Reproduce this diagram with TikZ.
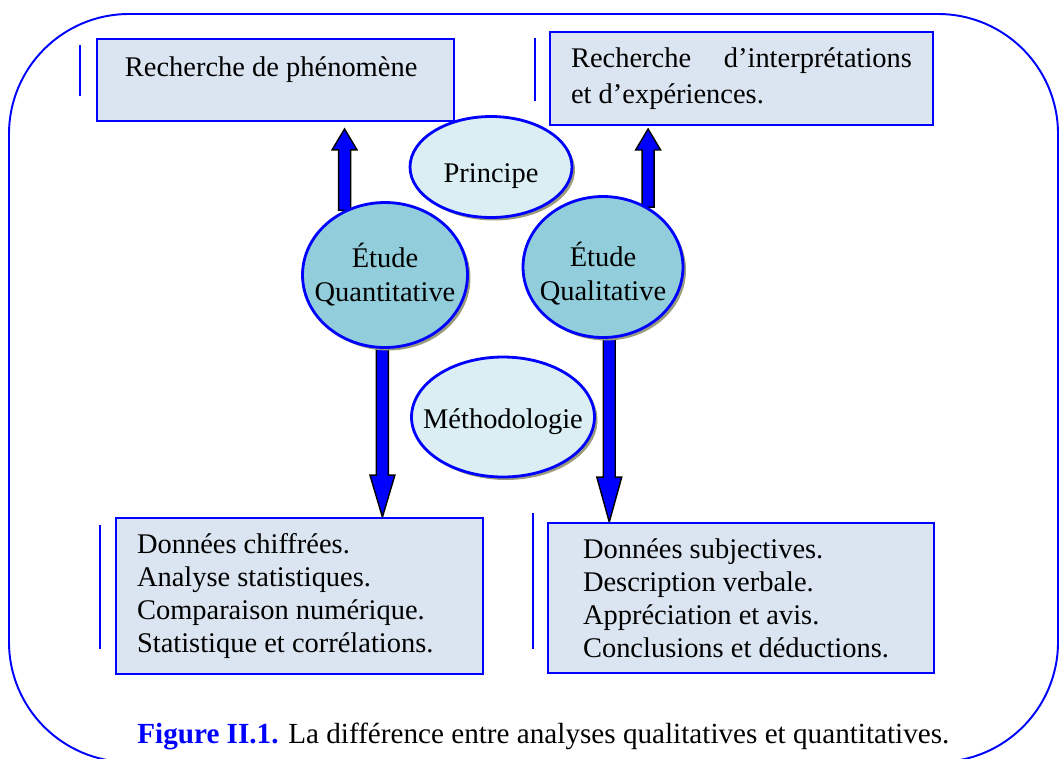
\documentclass[tikz,border=0pt]{standalone}
\usepackage{fontspec}
\setmainfont{Liberation Serif}
\usetikzlibrary{calc,shadows,shapes.geometric,backgrounds}
\definecolor{bleuvif}{RGB}{0,0,255}
\definecolor{fondboite}{RGB}{219,229,241}
\definecolor{fondclair}{RGB}{218,238,243}
\definecolor{fondetude}{RGB}{146,205,220}
\definecolor{ombre}{RGB}{155,155,125}
\tikzset{
  boite/.style={draw=bleuvif, fill=fondboite, line width=1.1pt, align=flush left, inner ysep=0pt},
  bulle/.style={ellipse, draw=bleuvif, line width=1.6pt, align=flush center,
    inner xsep=-0.4cm, inner ysep=0pt,
    drop shadow={shadow xshift=0.06cm, shadow yshift=-0.06cm, fill=ombre, opacity=1}},
  barre/.style={draw=bleuvif, line width=1.1pt},
  fleche/.style={draw=black, fill=bleuvif, line width=0.8pt,
    to path={let \p1=(\tikztostart), \p2=(\tikztotarget), \n1={sign(\y2-\y1)} in
      (\x1-0.12cm,\y1) -- (\x1-0.12cm,{\y2-\n1*#1}) -- (\x1-0.25cm,{\y2-\n1*#1})
      -- (\x2,\y2) -- (\x1+0.25cm,{\y2-\n1*#1}) -- (\x1+0.12cm,{\y2-\n1*#1})
      -- (\x1+0.12cm,\y1) -- cycle}},
  fleche/.default=0.42cm,
}

\begin{document}
\begin{tikzpicture}[x=0.02cm, y=-0.02cm, every node/.style={font=\fontsize{16.2}{18.8}\selectfont}]
  \useasboundingbox (0,0) rectangle (1060,758);
  % cadre
  \draw[bleuvif, line width=1.1pt, rounded corners=2.4cm] (9,14) rectangle (1058,762);

  % boites
  \node[boite, anchor=north west, text width=6.02cm, inner xsep=0.56cm,
        text height=0.76cm, text depth=0.88cm] (phen) at (96,38) {Recherche de phénomène};
  \node[boite, minimum height=1.86cm, text width=6.82cm, inner xsep=0.42cm,
        font=\fontsize{16.2}{20.5}\selectfont] (interp) at (741.5,78.5)
        {Recherche\hfill d’interprétations\\et d’expériences.};
  \node[boite, minimum height=3.12cm, text width=6.5cm, inner xsep=0.42cm] (chiffres) at (299.5,596)
        {Données chiffrées.\\Analyse statistiques.\\Comparaison numérique.\\Statistique et corrélations.};
  \node[boite, minimum height=3.0cm, text width=6.32cm, inner xsep=0.7cm] (subjectif) at (741,598)
        {Données subjectives.\\Description verbale.\\Appréciation et avis.\\Conclusions et déductions.};

  % barres
  \draw[barre] (80,45) -- (80,96);
  \draw[barre] (535,38) -- (535,101);
  \draw[barre] (100,525) -- (100,649);
  \draw[barre] (533,513) -- (533,649);

  % bulles
  \node[bulle, fill=fondclair, minimum width=3.24cm, minimum height=2.02cm,
        text height=0.6cm, text depth=0pt] (principe) at (491,167) {Principe};
  \node[bulle, fill=fondetude, minimum width=3.3cm, minimum height=2.9cm,
        font=\fontsize{16.2}{19.4}\selectfont] (quanti) at (385,275) {Étude\\Quantitative};
  \node[bulle, fill=fondetude, minimum width=3.2cm, minimum height=2.82cm,
        font=\fontsize{16.2}{19.4}\selectfont, text height=1.44cm] (quali) at (603,267) {Étude\\Qualitative};
  \node[bulle, fill=fondclair, minimum width=3.66cm, minimum height=2.4cm,
        text height=0.44cm, text depth=0pt] (methodo) at (503,417) {Méthodologie};

  % fleches
  \begin{scope}[on background layer]
    \draw[fleche] (quanti.122) to ($(phen.south -| quanti.122)+(0,7)$);
    \draw[fleche] (quali.53) to ($(interp.south -| quali.53)+(0,3)$);
    \draw[fleche=0.84cm] (quanti.268) to (chiffres.north -| quanti.268);
    \draw[fleche=0.9cm] (quali.-85) to (subjectif.north -| quali.-85);
  \end{scope}

  \node[anchor=base west, inner sep=0pt, font=\fontsize{16.6}{19}\selectfont] (legende) at (137,743)
    {\textcolor{bleuvif}{\textbf{Figure II.1.}} La différence entre analyses qualitatives et quantitatives.};
\end{tikzpicture}
\end{document}
